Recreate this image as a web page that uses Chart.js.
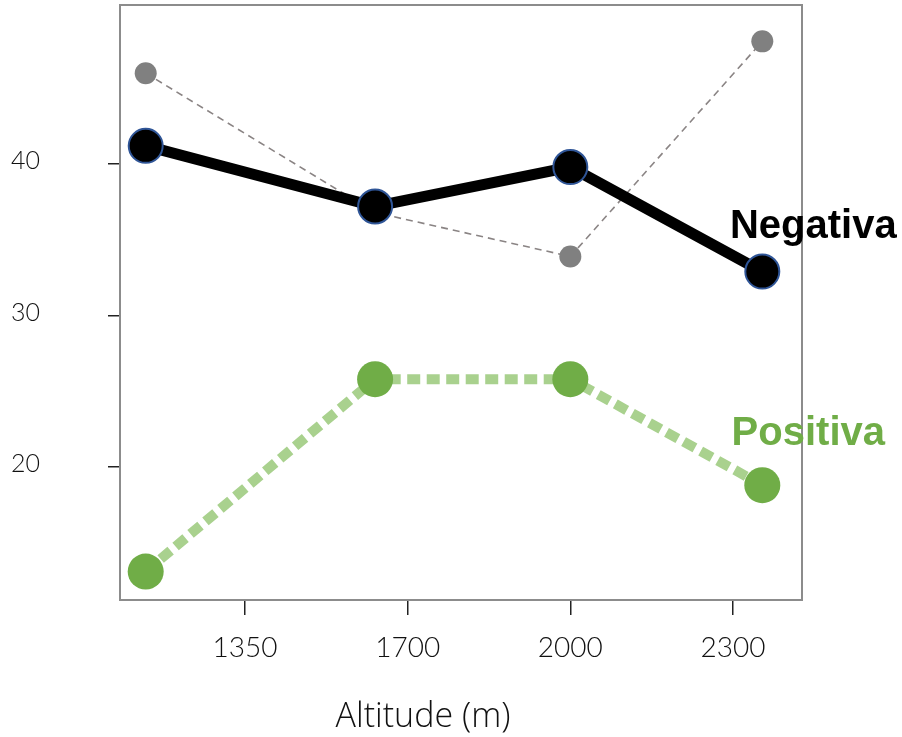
<!DOCTYPE html>
<html>
<head>
<meta charset="utf-8">
<script src="https://cdn.jsdelivr.net/npm/chart.js@4/dist/chart.umd.min.js"></script>
<style>
  html, body { margin: 0; padding: 0; background: #ffffff; }
  #chart { display: block; }
</style>
</head>
<body>
<canvas id="chart" width="902" height="737"></canvas>
<script>
// Altitude classes shown on the x axis (evenly spaced positions 0..3)
const altitudeLabels = ['1350', '1700', '2000', '2300'];
// Where each sampling site sits along that axis
const sitePositions = [-0.61, 0.80, 2.00, 3.18];

// Series values per site
const negativa = [41.2, 37.2, 39.8, 32.9];
const positiva = [13.1, 25.8, 25.8, 18.8];
const referencia = [46.0, 36.8, 33.9, 48.1];

// Y axis tick values
const yTickValues = [20, 30, 40];

const axisTitle = 'Altitude (m)';

const toPoints = (vals) => vals.map((v, i) => ({ x: sitePositions[i], y: v }));

// Frame around the plotting area
const frame = {
  id: 'frame',
  beforeDatasetsDraw(chart) {
    const { ctx, chartArea: a } = chart;
    ctx.save();
    ctx.strokeStyle = '#8c8c8c';
    ctx.lineWidth = 2;
    ctx.strokeRect(a.left, a.top, a.right - a.left, a.bottom - a.top);
    ctx.restore();
  }
};

// Axis title under the altitude ticks
const xTitle = {
  id: 'xTitle',
  afterDraw(chart) {
    const { ctx, chartArea: a } = chart;
    ctx.save();
    ctx.font = '300 34px "Open Sans", "Noto Sans", sans-serif';
    ctx.fillStyle = '#111111';
    ctx.textAlign = 'center';
    ctx.textBaseline = 'alphabetic';
    ctx.fillText(axisTitle, a.left + 303, a.bottom + 127);
    ctx.restore();
  }
};

// Series names written next to the last point of each line
const seriesNames = {
  id: 'seriesNames',
  afterDatasetsDraw(chart) {
    const { ctx } = chart;
    const x = chart.scales.x, y = chart.scales.y;
    const last = sitePositions.length - 1;
    const items = [
      { text: 'Negativa', color: '#000000', value: negativa[last], dx: 51, dy: -34 },
      { text: 'Positiva', color: '#70ad47', value: positiva[last], dx: 46, dy: -40 }
    ];
    ctx.save();
    ctx.font = 'bold 40px "Liberation Sans", Arial, sans-serif';
    ctx.textAlign = 'center';
    ctx.textBaseline = 'alphabetic';
    items.forEach(it => {
      ctx.fillStyle = it.color;
      ctx.fillText(it.text, x.getPixelForValue(sitePositions[last]) + it.dx,
                   y.getPixelForValue(it.value) + it.dy);
    });
    ctx.restore();
  }
};

new Chart(document.getElementById('chart'), {
  type: 'line',
  data: {
    datasets: [
      {
        label: 'Referência',
        data: toPoints(referencia),
        borderColor: '#8a8484',
        borderWidth: 1.6,
        borderDash: [7, 5],
        pointRadius: 11,
        pointBackgroundColor: '#808080',
        pointBorderWidth: 0,
        tension: 0,
        order: 3
      },
      {
        label: 'Positiva',
        data: toPoints(positiva),
        borderColor: '#a9d18e',
        borderWidth: 10,
        borderDash: [13, 6.5],
        pointRadius: 18,
        pointBackgroundColor: '#70ad47',
        pointBorderWidth: 0,
        tension: 0,
        order: 2
      },
      {
        label: 'Negativa',
        data: toPoints(negativa),
        borderColor: '#000000',
        borderWidth: 11,
        pointRadius: 17,
        pointBackgroundColor: '#000000',
        pointBorderColor: '#2f5597',
        pointBorderWidth: 2,
        tension: 0,
        order: 1
      }
    ]
  },
  options: {
    responsive: false,
    devicePixelRatio: 1,
    animation: false,
    clip: false,
    layout: { autoPadding: false, padding: { left: 11, top: 5, right: 100, bottom: 0 } },
    plugins: {
      legend: { display: false },
      tooltip: { enabled: false }
    },
    scales: {
      x: {
        type: 'linear',
        min: -0.768,
        max: 3.424,
        afterBuildTicks: (s) => { s.ticks = altitudeLabels.map((_, i) => ({ value: i })); },
        afterFit: (s) => { s.height = 137; s.paddingLeft = 0; s.paddingRight = 0; },
        border: { display: false },
        grid: { drawOnChartArea: false, drawTicks: true, tickLength: 15, color: '#222222', lineWidth: 1.5 },
        ticks: {
          autoSkip: false,
          maxRotation: 0,
          padding: 16,
          color: '#111111',
          font: { family: 'Lato', weight: 300, size: 28 },
          callback: (v, i) => altitudeLabels[i]
        }
      },
      y: {
        type: 'linear',
        min: 11.22,
        max: 50.5,
        afterBuildTicks: (s) => { s.ticks = yTickValues.map(v => ({ value: v })); },
        afterFit: (s) => { s.width = 109; s.paddingTop = 0; s.paddingBottom = 0; },
        border: { display: false },
        grid: { drawOnChartArea: false, drawTicks: true, tickLength: 12, color: '#222222', lineWidth: 1.5 },
        ticks: {
          crossAlign: 'far',
          labelOffset: -3,
          color: '#111111',
          font: { family: 'Lato', weight: 300, size: 25 }
        }
      }
    }
  },
  plugins: [frame, xTitle, seriesNames]
});
</script>
</body>
</html>
